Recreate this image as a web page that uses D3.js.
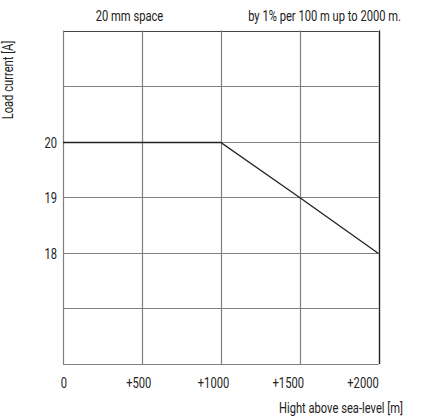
<!DOCTYPE html>
<html><head><meta charset="utf-8">
<script src="https://cdn.jsdelivr.net/npm/d3@7"></script>
<style>
body{margin:0;background:#fff;}
text{font-family:Roboto,"Liberation Sans",sans-serif;fill:#222;}
</style></head><body>
<svg id="c" width="426" height="417"></svg>
<script>
const altitude = [0, 1000, 1500, 2000];
const current = [20, 20, 19, 18];
const xTicks = [0, 500, 1000, 1500, 2000];
const xTickLabels = ["0", "+500", "+1000", "+1500", "+2000"];
const yGrid = [16, 17, 18, 19, 20, 21, 22];
const yTickLabels = [18, 19, 20];

const svg = d3.select("#c");
const L = 63, R = 378.5, T = 30.5, B = 364;
const SX = 0.77, FS = 14.5;
const x = d3.scaleLinear().domain([0, 2000]).range([L, R]);
const xLab = d3.scaleLinear().domain([0, 2000]).range([64, 363]);
const y = d3.scaleLinear().domain([16, 22]).range([B, T]);

function label(px, py, str, anchor, rot) {
  svg.append("text")
    .attr("transform", `translate(${px},${py})` + (rot ? ` rotate(${rot})` : "") + ` scale(${SX},1)`)
    .attr("text-anchor", anchor).attr("font-size", FS).text(str);
}

// grid
svg.append("g").selectAll("line").data(yGrid).join("line")
  .attr("x1", L).attr("x2", R).attr("y1", d => Math.round(y(d)) + 0.5).attr("y2", d => Math.round(y(d)) + 0.5)
  .attr("stroke", d => d === 22 ? "#444" : "#808080").attr("stroke-width", 1.2);
svg.append("g").selectAll("line").data(xTicks).join("line")
  .attr("y1", T).attr("y2", B).attr("x1", d => Math.round(x(d)) + 0.5).attr("x2", d => Math.round(x(d)) + 0.5)
  .attr("stroke", d => d === 2000 ? "#222" : "#808080").attr("stroke-width", d => d === 2000 ? 1.4 : 1.2);

// data line
const line = d3.line().x((d, i) => x(altitude[i])).y(d => Math.round(y(d)) + 0.5);
svg.append("path").datum(current).attr("d", line)
  .attr("fill", "none").attr("stroke", "#222").attr("stroke-width", 1.3);

// x tick labels
xTicks.forEach((v, i) => label(xLab(v), 388, xTickLabels[i], "middle"));
// y tick labels
yTickLabels.forEach(v => label(57, Math.round(y(v)) + 5.5, d3.format("d")(v), "end"));

label(403, 413, "Hight above sea-level [m]", "end");
label(13, 80, "Load current [A]", "middle", -90);
label(129.5, 21, "20 mm space", "middle");
label(401, 21, "by 1% per 100 m up to 2000 m.", "end");
</script>
</body></html>
